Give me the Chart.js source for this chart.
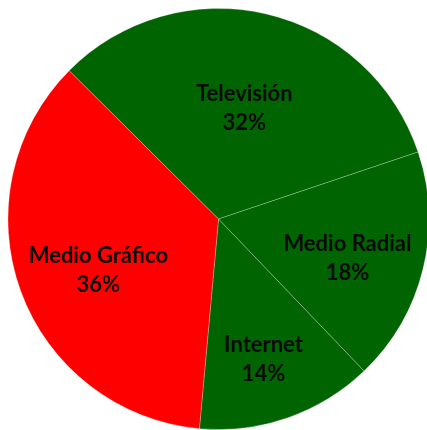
<!DOCTYPE html>
<html>
<head>
<meta charset="utf-8">
<script src="https://cdn.jsdelivr.net/npm/chart.js@4/dist/chart.umd.min.js"></script>
<style>
  html, body { margin: 0; padding: 0; background: #fff; overflow: hidden; }
  #wrap { width: 430px; height: 430px; }
</style>
</head>
<body>
<div id="wrap"><canvas id="canvasGrafico" width="430" height="430"></canvas></div>
<script>
const medios = ['Televisión', 'Medio Radial', 'Internet', 'Medio Gráfico'];
const porcentajes = [32.4, 18.0, 13.6, 36.0];
const colores = ['#006400', '#006400', '#006400', '#FF0000'];

// where each label sits inside its slice (fraction of radius, angle nudge in degrees)
const posLabel = [
  { r: 0.54, da: 0 },
  { r: 0.64, da: 3 },
  { r: 0.70, da: 1.5 },
  { r: 0.62, da: -3 }
];

const etiquetas = {
  id: 'etiquetas',
  afterDatasetsDraw(chart) {
    const ctx = chart.ctx;
    const meta = chart.getDatasetMeta(0);
    const total = porcentajes.reduce((a, b) => a + b, 0);
    ctx.save();
    ctx.fillStyle = '#0a0a0a';
    ctx.font = 'bold 22px Lato';
    ctx.textAlign = 'center';
    ctx.textBaseline = 'alphabetic';
    meta.data.forEach(function (arc, i) {
      const p = arc.getProps(['x', 'y', 'startAngle', 'endAngle', 'outerRadius'], true);
      const ang = (p.startAngle + p.endAngle) / 2 + posLabel[i].da * Math.PI / 180;
      const rr = p.outerRadius * posLabel[i].r;
      const cx = p.x + Math.cos(ang) * rr;
      const cy = p.y + Math.sin(ang) * rr;
      const pct = Math.round(porcentajes[i] / total * 100) + '%';
      ctx.fillText(medios[i], cx, cy - 7);
      ctx.fillText(pct, cx, cy + 22);
    });
    ctx.restore();
  }
};

const data = {
  labels: medios,
  datasets: [{
    data: porcentajes,
    backgroundColor: colores,
    borderColor: 'rgba(255,255,255,0.25)',
    borderWidth: 1,
    hoverOffset: 0,
    offset: 0
  }]
};

const config = {
  type: 'pie',
  data: data,
  options: {
    responsive: false,
    animation: false,
    rotation: -45.2,
    layout: { padding: { left: 7, top: 8, right: 0, bottom: 0 } },
    plugins: {
      legend: { display: false },
      tooltip: { enabled: false }
    }
  },
  plugins: [etiquetas]
};

const graficoDash = new Chart(
  document.getElementById('canvasGrafico'),
  config
);
</script>
</body>
</html>
